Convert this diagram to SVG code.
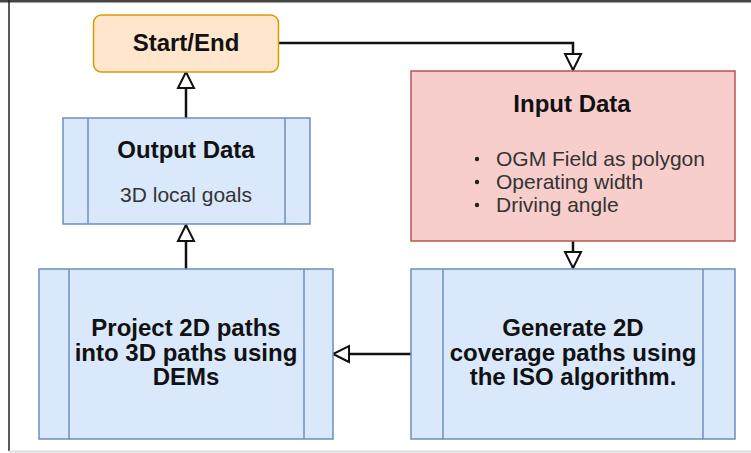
<svg xmlns="http://www.w3.org/2000/svg" width="751" height="453" viewBox="0 0 751 453">
<style>
.blue{fill:#dae8fc;stroke:#6c8ebf;stroke-width:1.5}
.orange{fill:#ffe6cc;stroke:#d79b00;stroke-width:1.5}
.red{fill:#f8cecc;stroke:#b85450;stroke-width:1.5}
.sep{fill:none;stroke:#6c8ebf;stroke-width:1.5}
.b{font-family:"Liberation Sans",Arial,sans-serif;font-weight:bold;font-size:24px;fill:#111;text-anchor:middle}
.r{font-family:"Liberation Sans",Arial,sans-serif;font-size:21px;fill:#333}
.conn{fill:none;stroke:#111;stroke-width:2.5;marker-end:url(#arr)}
</style>
<defs>
<marker id="arr" markerUnits="userSpaceOnUse" markerWidth="22" markerHeight="22" viewBox="-2 -11 22 22" refX="17" refY="0" orient="auto">
<path d="M1,-8 L17,0 L1,8 Z" fill="#fff" stroke="#111" stroke-width="2"/>
</marker>
</defs>
<rect x="0" y="0" width="751" height="453" fill="#fff"/>
<rect x="0" y="0" width="751" height="2.5" fill="#444"/>
<line x1="9" y1="0" x2="9" y2="451" stroke="#222" stroke-width="1.5"/>
<line x1="9" y1="451.5" x2="751" y2="451.5" stroke="#ddd" stroke-width="2"/>
<g id="connectors">
<path class="conn" d="M279,43 H573 V70"/>
<path class="conn" d="M573,241 V268"/>
<path class="conn" d="M411,354 H333"/>
<path class="conn" d="M186,269 V225"/>
<path class="conn" d="M186,118 V72"/>
</g>
<g id="start-end">
<rect class="orange" x="93.5" y="15" width="185" height="57" rx="8"/>
<text class="b" x="186" y="51">Start/End</text>
</g>
<g id="input-data">
<rect class="red" x="411" y="71" width="324" height="170"/>
<text class="b" x="572" y="112">Input Data</text>
<circle cx="477" cy="159" r="2.2" fill="#222"/>
<circle cx="477" cy="182" r="2.2" fill="#222"/>
<circle cx="477" cy="205" r="2.2" fill="#222"/>
<text class="r" x="496" y="166">OGM Field as polygon</text>
<text class="r" x="496" y="189">Operating width</text>
<text class="r" x="496" y="212">Driving angle</text>
</g>
<g id="output-data">
<rect class="blue" x="63" y="118" width="247" height="106"/>
<path class="sep" d="M88,118 V224 M285,118 V224"/>
<text class="b" x="186" y="158">Output Data</text>
<text class="r" x="186" y="202" text-anchor="middle">3D local goals</text>
</g>
<g id="project">
<rect class="blue" x="39" y="269" width="294" height="170"/>
<path class="sep" d="M69,269 V439 M304,269 V439"/>
<text class="b" x="186" y="336">Project 2D paths</text>
<text class="b" x="186" y="360.5">into 3D paths using</text>
<text class="b" x="186" y="385">DEMs</text>
</g>
<g id="generate">
<rect class="blue" x="411" y="269" width="324" height="170"/>
<path class="sep" d="M443,269 V439 M703,269 V439"/>
<text class="b" x="573" y="336">Generate 2D</text>
<text class="b" x="573" y="360.5">coverage paths using</text>
<text class="b" x="573" y="385">the ISO algorithm.</text>
</g>
</svg>
